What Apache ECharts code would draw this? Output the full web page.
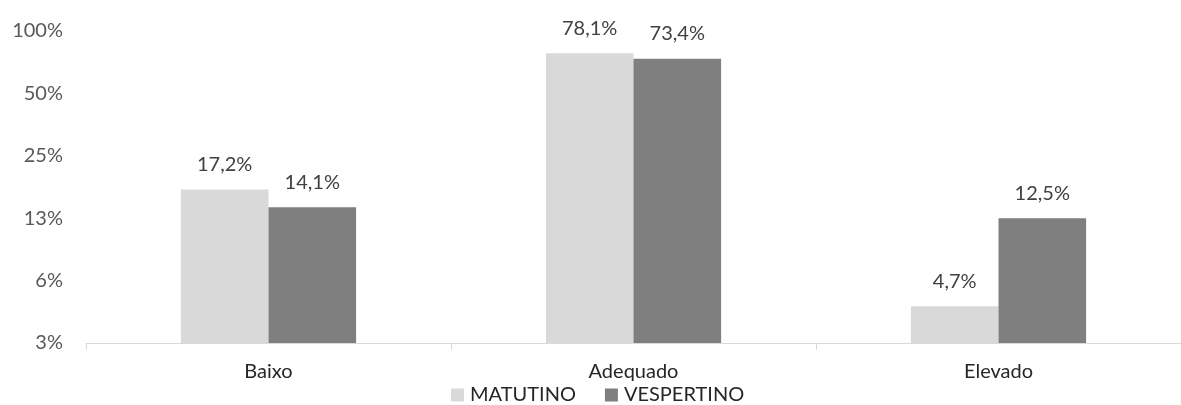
<!DOCTYPE html>
<html>
<head>
<meta charset="utf-8">
<script src="https://cdn.jsdelivr.net/npm/echarts@6/dist/echarts.min.js"></script>
<style>
  html, body { margin: 0; padding: 0; background: #fff; }
  #chart { width: 1181px; height: 405px; }
</style>
</head>
<body>
<div id="chart"></div>
<script>
const categories = ['Baixo', 'Adequado', 'Elevado']
const matutino = [17.2, 78.1, 4.7]
const vespertino = [14.1, 73.4, 12.5]
// log2 axis starting at 3.125%, labels rounded like the original
const axisBase = 3.125
const axisSteps = 5

const fontName = 'Lato'
const chart = echarts.init(document.getElementById('chart'))

// bars are drawn on a linear axis in log2 units from axisBase
const toLog = (v) => Math.log2(v / axisBase)
const toPoints = (arr) => arr.map((v) => ({ value: toLog(v), raw: v }))

const pctLabel = {
  show: true,
  position: 'top',
  distance: 15,
  color: '#404040',
  fontSize: 20,
  fontFamily: fontName,
  formatter: (p) => p.data.raw.toFixed(1).replace('.', ',') + '%'
}

chart.setOption({
  animation: false,
  textStyle: { fontFamily: fontName },
  grid: {
    left: 86,
    top: 31,
    width: 1105,
    bottom: 62
  },
  legend: {
    data: ['MATUTINO', 'VESPERTINO'],
    top: 380,
    left: 446,
    itemWidth: 13,
    itemHeight: 13,
    itemGap: 29,
    icon: 'rect',
    selectedMode: false,
    textStyle: { color: '#262626', fontSize: 20, fontFamily: fontName, padding: [0, 0, 0, 1] }
  },
  xAxis: {
    type: 'category',
    data: categories,
    axisLine: { lineStyle: { color: '#d9d9d9', width: 1 } },
    axisTick: { show: true, length: 7, lineStyle: { color: '#d9d9d9' } },
    axisLabel: { color: '#262626', fontSize: 20, fontFamily: fontName, margin: 19 }
  },
  yAxis: {
    type: 'value',
    min: 0,
    max: axisSteps,
    interval: 1,
    axisLine: { show: false },
    axisTick: { show: false },
    splitLine: { show: false },
    axisLabel: {
      color: '#595959',
      fontSize: 20,
      fontFamily: fontName,
      margin: 23,
      formatter: (v) => Math.round(axisBase * Math.pow(2, v)) + '%'
    }
  },
  series: [
    {
      name: 'MATUTINO',
      type: 'bar',
      data: toPoints(matutino),
      barGap: '0%',
      barCategoryGap: '52%',
      itemStyle: { color: '#d9d9d9' },
      label: pctLabel
    },
    {
      name: 'VESPERTINO',
      type: 'bar',
      data: toPoints(vespertino),
      barGap: '0%',
      barCategoryGap: '52%',
      itemStyle: { color: '#7f7f7f' },
      label: pctLabel
    }
  ]
})
</script>
</body>
</html>
